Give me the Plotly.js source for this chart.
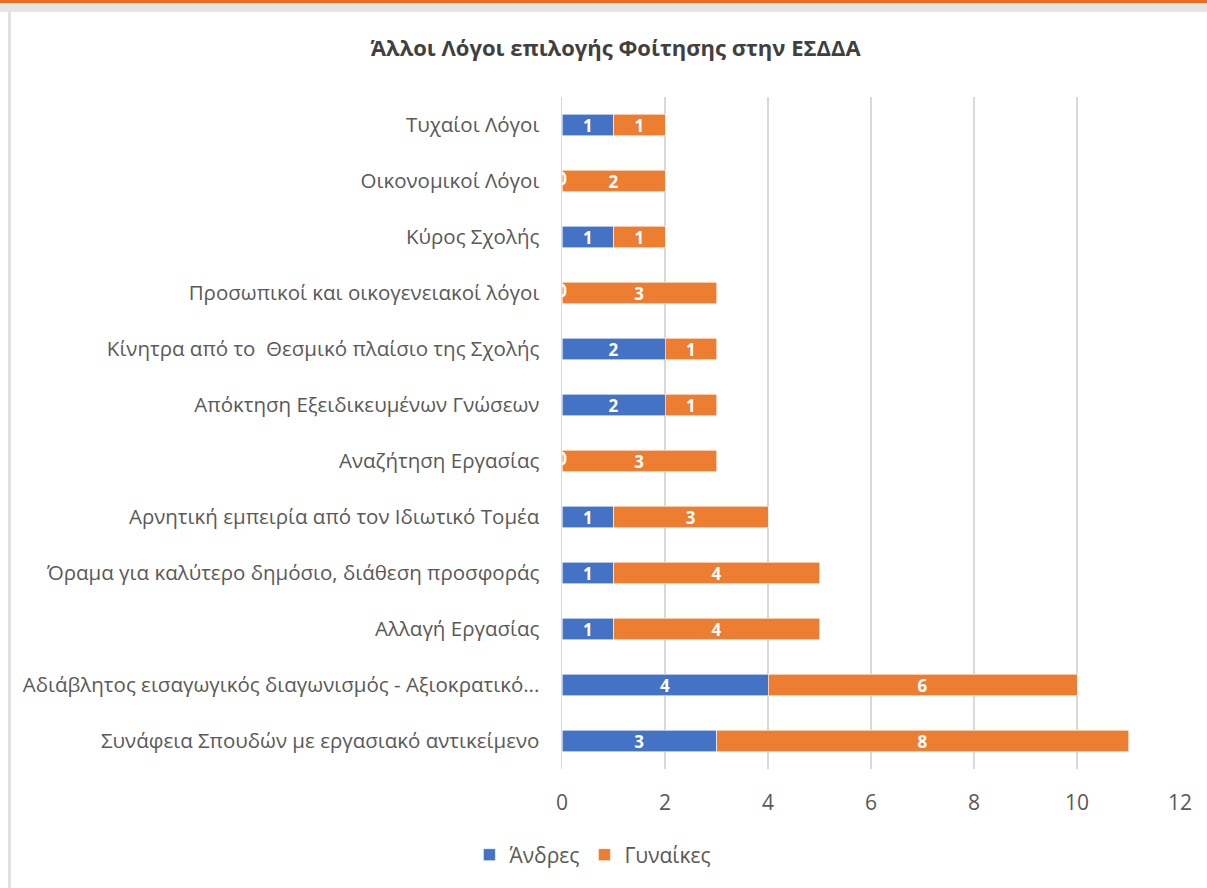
<!DOCTYPE html>
<html>
<head>
<meta charset="utf-8">
<script src="https://cdn.plot.ly/plotly-3.0.1.min.js"></script>
<style>
html,body{margin:0;padding:0;background:#fff;}
#chart{position:absolute;left:0;top:0;width:1207px;height:888px;}
.deco{position:absolute;pointer-events:none;}
</style>
</head>
<body>
<div id="chart"></div>
<div class="deco" style="left:0;top:0;width:1207px;height:3px;background:#F26B21;"></div>
<div class="deco" style="left:0;top:3px;width:1207px;height:9px;background:#E4E4E4;"></div>
<div class="deco" style="left:8px;top:12px;width:3px;height:876px;background:#E0E0E0;"></div>
<script>
const categories = [
  "Συνάφεια Σπουδών με εργασιακό αντικείμενο",
  "Αδιάβλητος εισαγωγικός διαγωνισμός - Αξιοκρατικό...",
  "Αλλαγή Εργασίας",
  "Όραμα για καλύτερο δημόσιο, διάθεση προσφοράς",
  "Αρνητική εμπειρία από τον Ιδιωτικό Τομέα",
  "Αναζήτηση Εργασίας",
  "Απόκτηση Εξειδικευμένων Γνώσεων",
  "Κίνητρα από το  Θεσμικό πλαίσιο της Σχολής",
  "Προσωπικοί και οικογενειακοί λόγοι",
  "Κύρος Σχολής",
  "Οικονομικοί Λόγοι",
  "Τυχαίοι Λόγοι"
];
const men   = [3, 4, 1, 1, 1, 0, 2, 2, 0, 1, 0, 1];
const women = [8, 6, 4, 4, 3, 3, 1, 1, 3, 1, 2, 1];
const seriesNames = ["Άνδρες", "Γυναίκες"];
const xTicks = [0, 2, 4, 6, 8, 10, 12];
const titleText = "Άλλοι Λόγοι επιλογής Φοίτησης στην ΕΣΔΔΑ";

const FONT = "'Open Sans', 'Noto Sans', sans-serif";
const labelFont = {family: FONT, size: 17, color: "#FFFFFF", weight: "bold"};

const zeroCats = categories.filter((c, i) => men[i] === 0);

const data = [
  {type: "bar", orientation: "h", name: seriesNames[0], y: categories, x: men,
   marker: {color: "#4472C4", line: {color: "#FFFFFF", width: 0.6}},
   text: men.map(v => v === 0 ? "" : String(v)), textposition: "inside", textangle: 0,
   insidetextanchor: "middle", textfont: labelFont, constraintext: "none", hoverinfo: "x+y"},
  {type: "bar", orientation: "h", name: seriesNames[1], y: categories, x: women,
   marker: {color: "#ED7D31", line: {color: "#FFFFFF", width: 0.6}},
   text: women.map(v => String(v)), textposition: "inside", textangle: 0,
   insidetextanchor: "middle", textfont: labelFont, constraintext: "none", hoverinfo: "x+y"},
  {type: "scatter", mode: "text", y: zeroCats, x: zeroCats.map(() => 0),
   text: zeroCats.map(() => "0"), textfont: labelFont, textposition: "middle center",
   showlegend: false, cliponaxis: false, hoverinfo: "skip"}
];

const layout = {
  width: 1207, height: 888,
  margin: {l: 562, r: 27, t: 97, b: 117, pad: 0},
  paper_bgcolor: "#FFFFFF", plot_bgcolor: "#FFFFFF",
  barmode: "stack", bargap: 0.61,
  font: {family: FONT, color: "#595959", size: 21},
  title: {text: titleText, font: {family: FONT, size: 22, color: "#404040", weight: "bold"},
          xref: "container", yref: "container", x: 0.51, xanchor: "center", y: 0.946, yanchor: "middle"},
  xaxis: {range: [0, 12], tickvals: xTicks, ticktext: xTicks.map(String),
          showgrid: true, gridcolor: "#D9D9D9", gridwidth: 1.5, zeroline: false,
          showline: false, ticks: "", ticklabelstandoff: 19,
          tickfont: {family: FONT, size: 21, color: "#595959"}, fixedrange: true},
  yaxis: {type: "category", categoryorder: "array", categoryarray: categories,
          showgrid: false, zeroline: false, showline: true, linecolor: "#D9D9D9", linewidth: 1.5,
          ticks: "", ticklabelstandoff: 17,
          tickfont: {family: FONT, size: 20.5, color: "#595959"}, fixedrange: true},
  legend: {orientation: "h", x: 0.05, xanchor: "center", y: -0.128, yanchor: "middle",
           font: {family: FONT, size: 21, color: "#595959"}, traceorder: "normal",
           itemwidth: 30},
  showlegend: true
};

Plotly.newPlot("chart", data, layout, {displayModeBar: false, staticPlot: true});
</script>
</body>
</html>
